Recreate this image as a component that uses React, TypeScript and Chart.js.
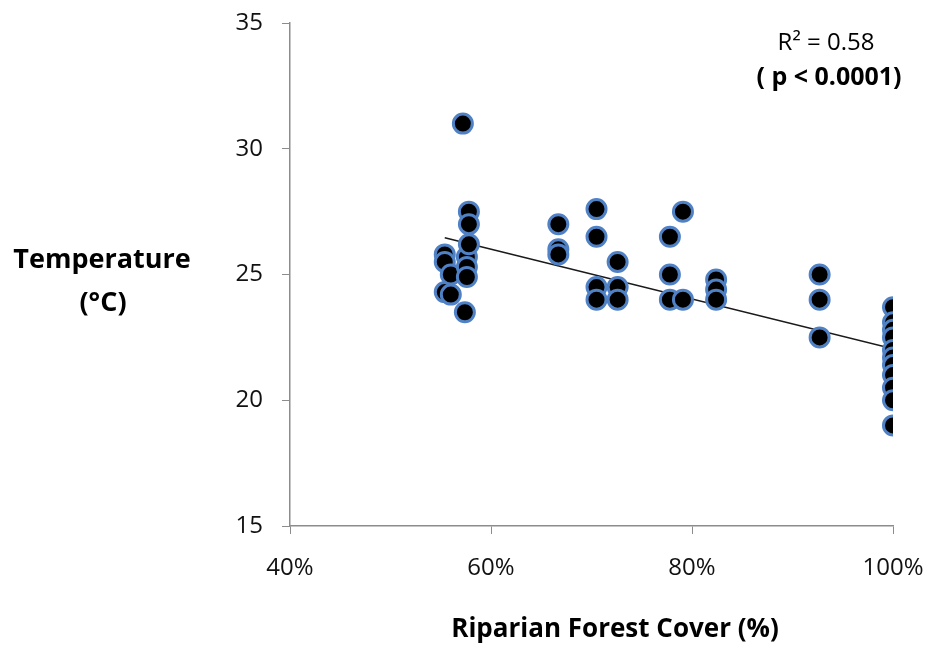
import React, { useEffect, useRef } from "react";
import { Chart, registerables } from "chart.js";

Chart.register(...registerables);

// Riparian forest cover (%) for each observation
const coverValues: number[] = [
  55.4, 55.4, 55.4,
  56.0, 56.0,
  57.2,
  57.4,
  57.6, 57.6, 57.6,
  57.8, 57.8, 57.8,
  66.7, 66.7, 66.7,
  70.5, 70.5, 70.5, 70.5,
  72.6, 72.6, 72.6,
  77.8, 77.8, 77.8,
  79.1, 79.1,
  82.4, 82.4, 82.4,
  92.7, 92.7, 92.7,
  100, 100, 100, 100, 100, 100, 100, 100, 100, 100, 100,
];

// Temperature (°C) for each observation
const temperatureValues: number[] = [
  25.8, 25.5, 24.3,
  25.0, 24.2,
  31.0,
  23.5,
  25.7, 25.3, 24.9,
  27.5, 27.0, 26.2,
  27.0, 26.0, 25.8,
  27.6, 26.5, 24.5, 24.0,
  25.5, 24.5, 24.0,
  26.5, 25.0, 24.0,
  27.5, 24.0,
  24.8, 24.4, 24.0,
  25.0, 24.0, 22.5,
  23.7, 23.1, 22.8, 22.5, 22.0, 21.7, 21.4, 21.0, 20.5, 20.0, 19.0,
];

// Linear trend line end points
const trendCover: number[] = [55.4, 100];
const trendTemperature: number[] = [26.46, 22.05];

const xTickValues: number[] = [40, 60, 80, 100];
const yTickValues: number[] = [15, 20, 25, 30, 35];

const xAxisTitle = "Riparian Forest Cover (%)";
const yAxisTitleLines = ["Temperature", "(°C)"];
const statLine1 = "R² = 0.58";
const statLine2 = "( p < 0.0001)";

const FONT = "'Open Sans', Lato, sans-serif";

const textPlugin = {
  id: "customText",
  afterDraw(chart: any) {
    const ctx = chart.ctx;
    ctx.save();
    ctx.fillStyle = "#000";
    ctx.textAlign = "center";
    ctx.textBaseline = "middle";
    ctx.font = `bold 27px ${FONT}`;
    ctx.fillText(yAxisTitleLines[0], 102, 260);
    ctx.fillText(yAxisTitleLines[1], 103, 303);
    ctx.font = `bold 26px ${FONT}`;
    ctx.fillText(xAxisTitle, 615, 630);
    ctx.font = `24px ${FONT}`;
    ctx.fillText(statLine1, 826, 43);
    ctx.font = `bold 25px ${FONT}`;
    ctx.fillText(statLine2, 829, 78);
    ctx.restore();
  },
};

export default function App() {
  const canvasRef = useRef<HTMLCanvasElement | null>(null);

  useEffect(() => {
    if (!canvasRef.current) return;
    const points = coverValues.map((x, i) => ({ x, y: temperatureValues[i] }));
    const trend = trendCover.map((x, i) => ({ x, y: trendTemperature[i] }));

    const chart = new Chart(canvasRef.current, {
      type: "scatter",
      data: {
        datasets: [
          {
            type: "line",
            label: "Trend",
            data: trend,
            borderColor: "#1a1a1a",
            borderWidth: 1.5,
            pointRadius: 0,
            fill: false,
            order: 2,
          } as any,
          {
            type: "scatter",
            label: "Observations",
            data: points,
            backgroundColor: "#000000",
            borderColor: "#4f81c4",
            borderWidth: 3,
            pointRadius: 9.5,
            order: 1,
          },
        ],
      },
      options: {
        responsive: false,
        animation: false,
        devicePixelRatio: 1,
        layout: { padding: { top: 23, right: 35, left: 0, bottom: 0 } },
        plugins: {
          legend: { display: false },
          tooltip: { enabled: false },
        },
        scales: {
          x: {
            type: "linear",
            min: 40,
            max: 100,
            afterBuildTicks: (scale: any) => {
              scale.ticks = xTickValues.map((v) => ({ value: v }));
            },
            afterFit: (scale: any) => {
              scale.height = 119;
              scale.paddingLeft = 0;
              scale.paddingRight = 0;
            },
            ticks: {
              color: "#111",
              font: { family: FONT, size: 24 },
              padding: 20,
              callback: (v: any) => `${v}%`,
            },
            grid: {
              drawOnChartArea: false,
              drawTicks: true,
              tickLength: 8,
              color: "#8c8c8c",
            },
            border: { color: "#8c8c8c", width: 1.5 },
          },
          y: {
            type: "linear",
            min: 15,
            max: 35,
            afterBuildTicks: (scale: any) => {
              scale.ticks = yTickValues.map((v) => ({ value: v }));
            },
            afterFit: (scale: any) => {
              scale.width = 290;
              scale.paddingTop = 0;
              scale.paddingBottom = 0;
            },
            ticks: {
              color: "#111",
              font: { family: FONT, size: 24 },
              padding: 19,
            },
            grid: {
              drawOnChartArea: false,
              drawTicks: true,
              tickLength: 8,
              color: "#8c8c8c",
            },
            border: { color: "#8c8c8c", width: 1.5 },
          },
        },
      },
      plugins: [textPlugin],
    });

    return () => chart.destroy();
  }, []);

  return (
    <div style={{ position: "absolute", left: 0, top: 0, width: 928, height: 645, background: "#fff" }}>
      <canvas ref={canvasRef} width={928} height={645} style={{ display: "block" }} />
    </div>
  );
}
